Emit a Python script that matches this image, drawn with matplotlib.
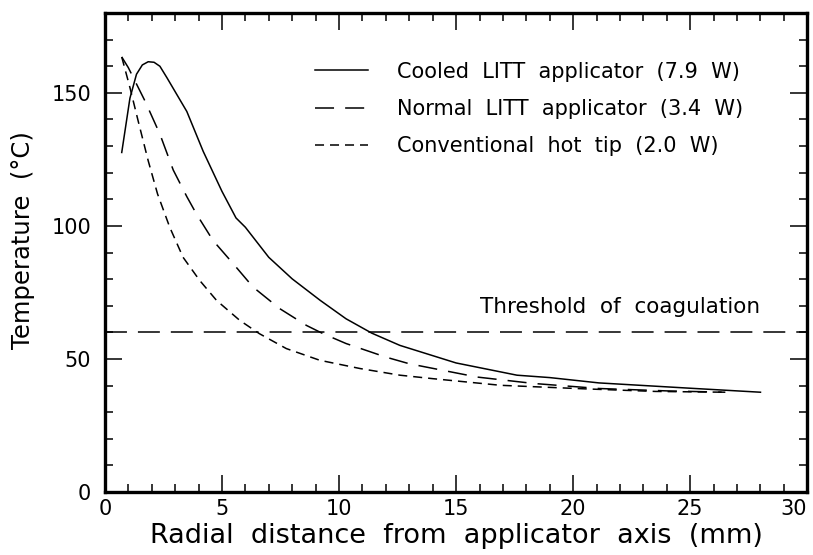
import numpy as np
import matplotlib
matplotlib.use("Agg")
import matplotlib.pyplot as plt
from matplotlib.ticker import MultipleLocator

plt.rcParams['font.family'] = ['DejaVu Sans']
plt.rcParams['lines.scale_dashes'] = False

# radial distance (mm) / temperature (deg C)
r_cooled = [0.72, 1.07, 1.35, 1.6, 1.85, 2.1, 2.35, 2.65, 3.5, 4.2, 5.0, 5.6, 6.0, 7.0,
            8.0, 9.2, 10.3, 11.4, 12.6, 15.0, 17.6, 19.0, 21.1, 25.0, 28.0]
t_cooled = [127.6, 148, 157, 160.5, 161.7, 161.5, 160, 155.7, 143, 128, 113, 103, 99.5,
            88.2, 80.1, 72, 65.1, 59.7, 55.1, 48.5, 43.9, 43, 41, 39, 37.5]

r_normal = [0.72, 1.0, 1.71, 2.35, 2.92, 3.5, 3.91, 4.62, 5.48, 6.33, 7.47, 8.61,
            9.32, 10.3, 12.0, 13.0, 15.9, 18.3, 21.1, 24.0, 26.5]
t_normal = [163.5, 159.5, 147, 134.5, 121, 111, 104.5, 94.5, 85.8, 77, 68.9, 62.6,
            59.5, 55.8, 50.7, 48.2, 43.2, 40.8, 38.9, 38, 37.5]

r_conv = [0.72, 1.07, 1.42, 1.85, 2.25, 2.77, 3.34, 4.05, 4.77, 5.76, 6.6, 7.75,
          9.18, 10.9, 12.6, 14.0, 16.9, 20.4, 23.5, 26.5]
t_conv = [163.5, 152, 139.5, 124.5, 112, 99.5, 88.2, 79.5, 72, 64.5, 59.5, 53.9,
          49.5, 46.4, 43.9, 42.6, 40.1, 38.8, 37.8, 37.5]

threshold = 60

x_ticks = [0, 5, 10, 15, 20, 25, 30]

labels = ["Cooled  LITT  applicator  (7.9  W)",
          "Normal  LITT  applicator  (3.4  W)",
          "Conventional  hot  tip  (2.0  W)"]

fig = plt.figure(figsize=(8.13, 5.55), dpi=100)
ax = fig.add_axes([0.129, 0.1135, 0.864, 0.863])

ax.plot(r_cooled, t_cooled, color='k', lw=1.1, label=labels[0])
ax.plot(r_normal, t_normal, color='k', lw=1.1, linestyle=(0, (13.7, 8)), label=labels[1])
ax.plot(r_conv, t_conv, color='k', lw=1.1, linestyle=(0, (6.5, 4.3)), label=labels[2])
ax.axhline(threshold, color='k', lw=1.1, linestyle=(0, (15.8, 7.9)))
ax.text(28.0, 69.5, "Threshold  of  coagulation", ha='right', va='center', fontsize=15.5)

ax.set_xlim(0, 30)
ax.set_ylim(0, 180)
ax.set_xticks(x_ticks)
ax.xaxis.set_minor_locator(MultipleLocator(1))
ax.yaxis.set_major_locator(MultipleLocator(50))
ax.yaxis.set_minor_locator(MultipleLocator(10))
ax.tick_params(which='both', direction='in', top=True, right=True, width=1.1, labelsize=15)
ax.tick_params(which='major', length=12)
ax.tick_params(which='minor', length=6)
ax.tick_params(axis='y', pad=10)
ax.tick_params(axis='x', pad=5)
for s in ax.spines.values():
    s.set_linewidth(2.4)

# keep the last x label inside the figure
for lab in ax.get_xticklabels():
    if lab.get_text() == "30":
        lab.set_horizontalalignment('right')

ax.set_xlabel("Radial  distance  from  applicator  axis  (mm)", fontsize=19.5, labelpad=3)
ax.set_ylabel("Temperature  (°C)", fontsize=17.5)
ax.yaxis.set_label_coords(-0.10, 0.526)

ax.legend(loc='upper left', bbox_to_anchor=(0.299, 0.8985), frameon=False, fontsize=15,
          handlelength=2.55, handletextpad=1.4, labelspacing=0.83,
          borderaxespad=0, borderpad=0)

plt.savefig("out.png", dpi=100)
